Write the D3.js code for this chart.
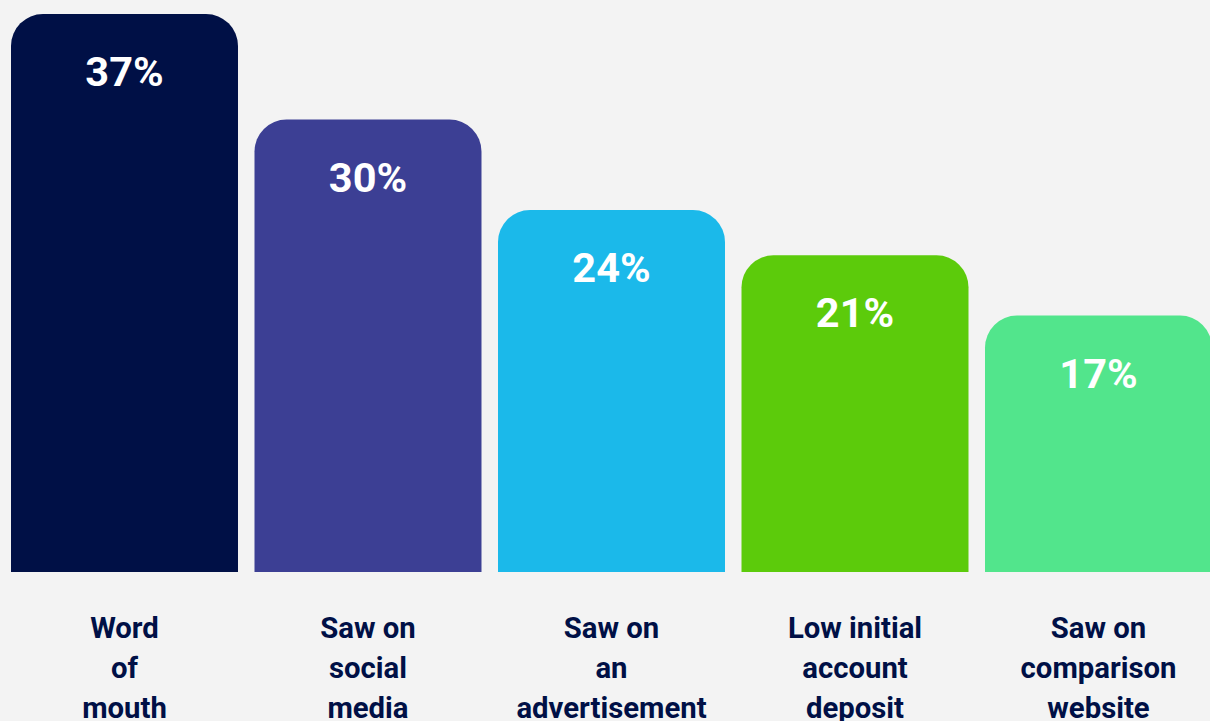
<!DOCTYPE html>
<html>
<head>
<meta charset="utf-8">
<script src="https://cdn.jsdelivr.net/npm/d3@7"></script>
<style>
  html, body { margin: 0; padding: 0; background: #f3f3f3; }
  svg { display: block; }
</style>
</head>
<body>
<svg id="chart" width="1210" height="721"></svg>
<script>
const categories = ["Word of mouth", "Saw on social media", "Saw on an advertisement", "Low initial account deposit", "Saw on comparison website"];
const labelLines = [["Word", "of", "mouth"], ["Saw on", "social", "media"], ["Saw on", "an", "advertisement"], ["Low initial", "account", "deposit"], ["Saw on", "comparison", "website"]];
const values = [37, 30, 24, 21, 17];
const colors = ["#001046", "#3c3f94", "#1bb9ea", "#5ccb0b", "#52e58c"];

const svg = d3.select("#chart");
const W = 1210, H = 721;
svg.append("rect").attr("width", W).attr("height", H).attr("fill", "#f3f3f3");

const baseline = 572;
const x = d3.scaleBand().domain(categories).range([11, 1212]).paddingInner(0.0678).paddingOuter(0);
const y = d3.scaleLinear().domain([0, 37]).range([baseline, 14]);

const r = 32;
function topRounded(x0, y0, w, h, rad) {
  const rr = Math.min(rad, w / 2, h);
  return `M${x0},${y0 + h} L${x0},${y0 + rr} A${rr},${rr} 0 0 1 ${x0 + rr},${y0} L${x0 + w - rr},${y0} A${rr},${rr} 0 0 1 ${x0 + w},${y0 + rr} L${x0 + w},${y0 + h} Z`;
}

const g = svg.append("g");
const data = categories.map((c, i) => ({ c, v: values[i], color: colors[i], lines: labelLines[i] }));

g.selectAll("path.bar").data(data).join("path")
  .attr("class", "bar")
  .attr("fill", d => d.color)
  .attr("d", d => topRounded(x(d.c), y(d.v), x.bandwidth(), baseline - y(d.v), r));

g.selectAll("text.val").data(data).join("text")
  .attr("class", "val")
  .attr("x", d => x(d.c) + x.bandwidth() / 2)
  .attr("y", d => y(d.v) + 72)
  .attr("text-anchor", "middle")
  .attr("fill", "#ffffff")
  .attr("font-family", "Roboto, sans-serif")
  .attr("font-weight", 700)
  .attr("font-size", 41.5)
  .text(d => d.v + "%");

const lab = g.selectAll("text.cat").data(data).join("text")
  .attr("class", "cat")
  .attr("text-anchor", "middle")
  .attr("fill", "#001046")
  .attr("font-family", "Roboto, sans-serif")
  .attr("font-weight", 700)
  .attr("font-size", 29.3);

lab.selectAll("tspan").data(d => d.lines.map(l => ({ l, cx: x(d.c) + x.bandwidth() / 2 }))).join("tspan")
  .attr("x", d => d.cx)
  .attr("y", (d, i) => 638 + i * 40)
  .text(d => d.l);
</script>
</body>
</html>
